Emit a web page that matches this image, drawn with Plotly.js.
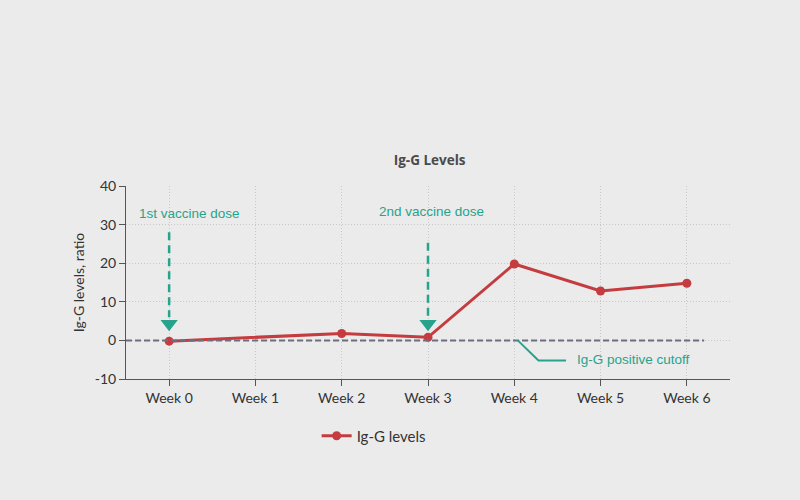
<!DOCTYPE html>
<html>
<head>
<meta charset="utf-8">
<script src="https://cdn.plot.ly/plotly-3.0.1.min.js"></script>
<style>
  html, body { margin: 0; padding: 0; background: #ebebeb; }
  #chart { width: 800px; height: 500px; }
</style>
</head>
<body>
<div id="chart"></div>
<script>
// data
var weeks = ['Week 0', 'Week 1', 'Week 2', 'Week 3', 'Week 4', 'Week 5', 'Week 6'];
var iggLevels = [-0.2, null, 1.8, 0.8, 19.8, 12.8, 14.8];

// y ticks (plain hyphen as in the original)
var yTickVals = [-10, 0, 10, 20, 30, 40];
var yTickText = ['-10', '0', '10', '20', '30', '40'];

// dose arrows: which week, where the dashed stem starts and ends
var doseWeeks = ['Week 0', 'Week 3'];
var doseLabels = ['1st vaccine dose', '2nd vaccine dose'];
var doseStemTop = [28, 25.3];
var doseStemBottom = [6, 6];
var doseHead = [4.3, 4.3];

var teal = '#27a38c';
var red = '#c43c3f';

var levelTrace = {
  x: weeks,
  y: iggLevels,
  name: 'Ig-G levels',
  type: 'scatter',
  mode: 'lines+markers',
  connectgaps: true,
  line: { color: red, width: 3 },
  marker: { color: red, size: 9 }
};

var heads = {
  x: doseWeeks,
  y: doseHead,
  type: 'scatter',
  mode: 'markers',
  marker: { symbol: 'triangle-down', size: 15, color: teal },
  showlegend: false,
  hoverinfo: 'skip'
};

var shapes = [];
for (var i = 0; i < doseWeeks.length; i++) {
  shapes.push({
    type: 'line', xref: 'x', yref: 'y',
    x0: doseWeeks[i], x1: doseWeeks[i], y0: doseStemTop[i], y1: doseStemBottom[i],
    line: { color: teal, width: 2.5, dash: '8px,5px' }
  });
}
// positive cutoff line at 0
shapes.push({
  type: 'line', xref: 'x', yref: 'y',
  x0: -0.5, x1: 6.2, y0: 0, y1: 0,
  line: { color: '#6e6e80', width: 2, dash: '6px,3px' }
});
// callout for the cutoff label
shapes.push({
  type: 'path', xref: 'x', yref: 'y',
  path: 'M 4.04 0 L 4.28 -5.2 L 4.6 -5.2',
  line: { color: teal, width: 2 }
});

var annoFont = { family: 'Liberation Sans, Arial, sans-serif', size: 13.5, color: teal };
var annotations = [
  {
    x: doseWeeks[0], y: 33, xref: 'x', yref: 'y', xshift: 20,
    text: doseLabels[0], showarrow: false, xanchor: 'center', font: annoFont
  },
  {
    x: doseWeeks[1], y: 33.5, xref: 'x', yref: 'y', xshift: 3,
    text: doseLabels[1], showarrow: false, xanchor: 'center', font: annoFont
  },
  {
    x: 4.7, y: -5, xref: 'x', yref: 'y',
    text: 'Ig-G positive cutoff', showarrow: false, xanchor: 'left', font: annoFont
  }
];

var layout = {
  width: 800,
  height: 500,
  paper_bgcolor: '#ebebeb',
  plot_bgcolor: '#ebebeb',
  margin: { l: 126, r: 70, t: 186, b: 121 },
  title: {
    text: '<b>Ig-G Levels</b>',
    x: 0.537, xanchor: 'center',
    y: 0.68, yanchor: 'middle', yref: 'container',
    font: { family: 'Open Sans, sans-serif', size: 13.5, color: '#4a4a4a' }
  },
  font: { family: 'Lato, Open Sans, sans-serif', size: 13, color: '#333' },
  xaxis: {
    type: 'category',
    range: [-0.5, 6.5],
    showline: true, linecolor: '#555', linewidth: 1,
    ticks: 'outside', ticklen: 6, tickcolor: '#555',
    showgrid: true, gridcolor: '#c8c8c8', griddash: '1px,2px', gridwidth: 1,
    tickfont: { family: 'Lato, sans-serif', size: 14, color: '#333' }
  },
  yaxis: {
    range: [-10, 40],
    tickvals: yTickVals,
    ticktext: yTickText,
    showline: true, linecolor: '#555', linewidth: 1,
    ticks: 'outside', ticklen: 6, tickcolor: '#555',
    showgrid: true, gridcolor: '#c8c8c8', griddash: '1px,2px', gridwidth: 1,
    zeroline: false,
    tickfont: { family: 'Lato, sans-serif', size: 14, color: '#333' },
    title: { text: 'Ig-G levels, ratio', standoff: 6,
             font: { family: 'Lato, sans-serif', size: 14, color: '#333' } }
  },
  showlegend: true,
  legend: {
    orientation: 'h', x: 0.41, xanchor: 'center', y: -0.21, yanchor: 'top',
    font: { family: 'Lato, sans-serif', size: 15, color: '#333' },
    bgcolor: 'rgba(0,0,0,0)'
  },
  shapes: shapes,
  annotations: annotations
};

Plotly.newPlot('chart', [levelTrace, heads], layout, { displayModeBar: false, staticPlot: true });
</script>
</body>
</html>
